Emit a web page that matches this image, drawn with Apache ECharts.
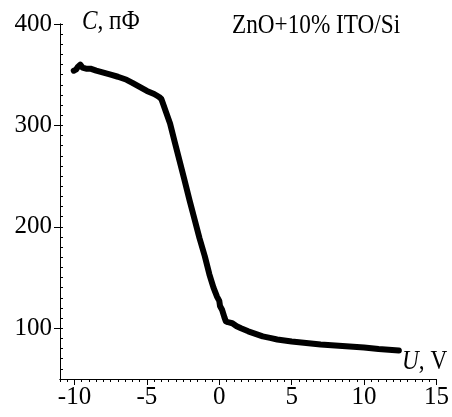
<!DOCTYPE html>
<html>
<head>
<meta charset="utf-8">
<script src="https://cdn.jsdelivr.net/npm/echarts@6/dist/echarts.min.js"></script>
<style>html,body{margin:0;padding:0;background:#fff}#c{width:452px;height:417px}</style>
</head>
<body>
<div id="c"></div>
<script>
// Voltage U (V)
const U = [-10.05, -9.9, -9.75, -9.6, -9.45, -9.2, -8.9, -8.5, -8.0, -7.5, -7.0, -6.4, -6.0, -5.5, -5.0, -4.5, -4.15, -4.0, -3.9,
  -3.7, -3.4, -3.1, -2.74, -2.4, -2.05, -1.7, -1.37, -1.0, -0.68, -0.4, -0.15, 0.0, 0.05, 0.2, 0.35, 0.45, 0.6, 0.9,
  1.2, 1.5, 2.0, 2.5, 3.0, 3.5, 4.0, 5.0, 6.0, 7.0, 8.0, 9.0, 10.0, 11.0, 12.4];
// Capacitance C (pF)
const C = [354, 355, 358, 360, 357, 356, 356, 354, 352, 350, 348, 345, 342, 338, 334, 331, 328, 326, 322,
  314, 302, 285, 265, 246, 226, 207, 189, 171, 153, 140, 131, 127, 122, 118, 111, 107, 106, 105,
  102, 100, 97, 94.5, 92, 90.5, 89, 87, 85.5, 84, 83, 82, 81, 79.5, 78];
const xMajor = [-10, -5, 0, 5, 10, 15];
const yMajor = [100, 200, 300, 400];

const pts = U.map((u, i) => [u, C[i]]);
const chart = echarts.init(document.getElementById('c'));
const font = 'Liberation Serif';
const axBase = {type: 'value', splitLine: {show: false},
  axisLine: {show: true, onZero: false, lineStyle: {color: '#000', width: 1}}};
chart.setOption({
  animation: false,
  backgroundColor: '#fff',
  grid: {left: 60, right: 13, top: 24, bottom: 38, containLabel: false},
  xAxis: [
    Object.assign({}, axBase, {min: -11, max: 15, interval: 0.5, position: 'bottom',
      axisTick: {show: true, length: 3, inside: false, lineStyle: {color: '#000'}},
      axisLabel: {show: false}}),
    Object.assign({}, axBase, {min: -11, max: 15, position: 'bottom', gridIndex: 0,
      axisTick: {show: true, length: 6, inside: false, customValues: xMajor, lineStyle: {color: '#000'}},
      axisLabel: {show: true, customValues: xMajor, color: '#000', fontFamily: font, fontSize: 25, margin: 6}})
  ],
  yAxis: [
    Object.assign({}, axBase, {min: 50, max: 400, interval: 10, position: 'left',
      axisTick: {show: true, length: 3, inside: true, lineStyle: {color: '#000'}},
      axisLabel: {show: false}}),
    Object.assign({}, axBase, {min: 50, max: 400, position: 'left',
      axisTick: {show: true, length: 6, inside: false, customValues: yMajor, lineStyle: {color: '#000'}},
      axisLabel: {show: true, customValues: yMajor, color: '#000', fontFamily: font, fontSize: 25, margin: 8}})
  ],
  series: [{
    type: 'line', xAxisIndex: 0, yAxisIndex: 0, data: pts, showSymbol: false, smooth: false,
    lineStyle: {color: '#000', width: 6, join: 'round', cap: 'round'}
  }],
  graphic: [
    {type: 'text', left: 232, top: 12, scaleX: 0.86,
      style: {text: 'ZnO+10% ITO/Si', font: '27px "Liberation Serif"', fill: '#000'}},
    {type: 'text', left: 82, top: 8, scaleX: 0.86,
      style: {text: '{i|C}{r|, пФ}', fill: '#000', rich: {
        i: {fontFamily: font, fontSize: 27, fontStyle: 'italic'},
        r: {fontFamily: font, fontSize: 27}}}},
    {type: 'text', left: 402, top: 348, scaleX: 0.86,
      style: {text: '{i|U}{r|, V}', fill: '#000', rich: {
        i: {fontFamily: font, fontSize: 27, fontStyle: 'italic'},
        r: {fontFamily: font, fontSize: 27}}}}
  ]
});
</script>
</body>
</html>
